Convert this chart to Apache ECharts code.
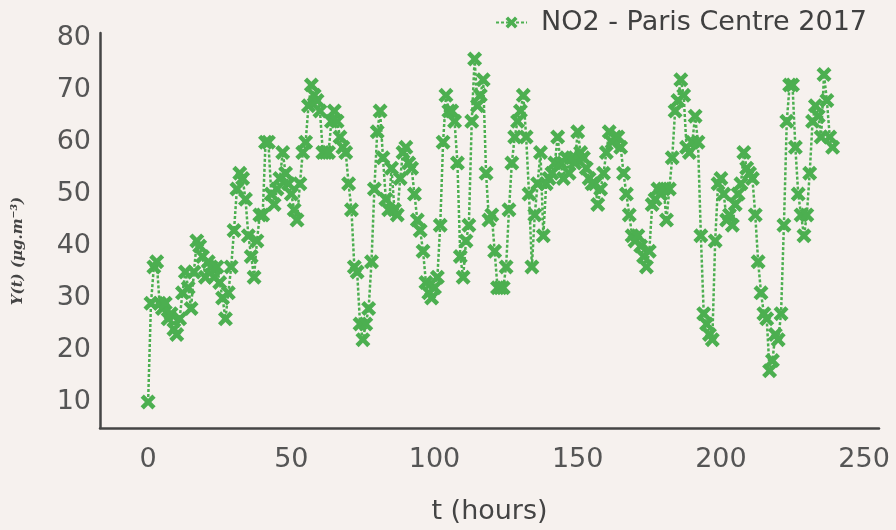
<!DOCTYPE html>
<html>
<head>
<meta charset="utf-8">
<script src="https://cdn.jsdelivr.net/npm/echarts@6/dist/echarts.min.js"></script>
<style>
  html, body { margin: 0; padding: 0; background: #f6f1ee; }
  #chart { width: 896px; height: 530px; }
</style>
</head>
<body>
<div id="chart"></div>
<script>
// Hourly NO2 concentration, Paris Centre 2017 (hours 0..239)
const no2 = [
  10, 29, 36, 37, 29, 28, 29, 26, 27, 24,
  23, 26, 31, 35, 32, 28, 35, 41, 40, 38,
  34, 37, 36, 34, 36, 33, 30, 26, 31, 36,
  43, 51, 54, 53, 49, 42, 38, 34, 41, 46,
  46, 60, 60, 50, 48, 51, 53, 58, 54, 52,
  50, 47, 45, 52, 58, 60, 67, 71, 69, 68,
  66, 58, 58, 58, 64, 66, 64, 61, 59, 58,
  52, 47, 36, 35, 25, 22, 25, 28, 37, 51,
  62, 66, 57, 49, 47, 55, 47, 46, 53, 58,
  59, 56, 55, 50, 45, 43, 39, 33, 31, 30,
  32, 34, 44, 60, 69, 66, 66, 64, 56, 38,
  34, 41, 44, 64, 76, 67, 69, 72, 54, 45,
  46, 39, 32, 32, 32, 36, 47, 56, 61, 64,
  66, 69, 61, 50, 36, 46, 52, 58, 42, 52,
  53, 54, 56, 61, 56, 53, 57, 54, 57, 56,
  62, 58, 57, 55, 53, 52, 52, 48, 51, 54,
  58, 62, 60, 61, 61, 59, 54, 50, 46, 42,
  41, 42, 40, 38, 36, 39, 48, 49, 51, 50,
  51, 45, 51, 57, 66, 68, 72, 69, 59, 58,
  60, 65, 60, 42, 27, 25, 23, 22, 41, 52,
  53, 50, 45, 46, 44, 48, 50, 52, 58, 55,
  54, 53, 46, 37, 31, 27, 26, 16, 18, 23,
  22, 27, 44, 64, 71, 71, 59, 50, 46, 42,
  46, 54, 64, 67, 65, 61, 73, 68, 61, 59
];
const hours = no2.map((_, i) => i);
const xTicks = [0, 50, 100, 150, 200, 250];
const yTicks = [10, 20, 30, 40, 50, 60, 70, 80];
const seriesName = 'NO2 - Paris Centre 2017';
const xName = 't (hours)';
const yName = 'Y(t) (μg.m⁻³)';

const green = '#4caf50';
const xMarker = 'path://M0,3 L3,0 L7,4 L11,0 L14,3 L10,7 L14,11 L11,14 L7,10 L3,14 L0,11 L4,7 Z';

const chart = echarts.init(document.getElementById('chart'), null, { renderer: 'canvas' });
chart.setOption({
  backgroundColor: '#f6f1ee',
  animation: false,
  textStyle: { fontFamily: 'DejaVu Sans' },
  grid: { left: 100, right: 17, top: 33, bottom: 97, containLabel: false },
  legend: {
    right: 24, top: 4,
    itemWidth: 31, itemHeight: 15, itemGap: 10,
    textStyle: { fontFamily: 'DejaVu Sans', fontSize: 27, color: '#404040', padding: [0, 0, 0, 9] },
    data: [seriesName]
  },
  xAxis: {
    type: 'value', min: -16.8, max: 255.2,
    name: xName, nameLocation: 'middle', nameGap: 70,
    nameTextStyle: { fontFamily: 'DejaVu Sans', fontSize: 27, color: '#444' },
    axisLine: { show: true, onZero: false, lineStyle: { color: '#454545', width: 2.5 } },
    axisTick: { show: false, customValues: xTicks },
    axisLabel: { customValues: xTicks, fontFamily: 'DejaVu Sans', fontSize: 27, color: '#555', margin: 18 },
    splitLine: { show: false }
  },
  yAxis: {
    type: 'value', min: 5, max: 81,
    axisLine: { show: true, onZero: false, lineStyle: { color: '#454545', width: 2.5 } },
    axisTick: { show: false, customValues: yTicks },
    axisLabel: { customValues: yTicks, fontFamily: 'DejaVu Sans', fontSize: 27, color: '#555', margin: 9 },
    splitLine: { show: false }
  },
  graphic: [{
    type: 'text', x: 18, y: 251, rotation: Math.PI / 2,
    style: {
      text: yName, fill: '#444',
      font: 'italic bold 15px "DejaVu Serif"',
      textAlign: 'center', textVerticalAlign: 'middle'
    }
  }],
  series: [{
    name: seriesName,
    type: 'line',
    data: hours.map((h, i) => [h, no2[i]]),
    symbol: xMarker,
    symbolSize: 15,
    showAllSymbol: true,
    itemStyle: { color: green },
    lineStyle: { color: green, width: 2.5, type: [3, 2] },
    emphasis: { disabled: true }
  }]
});
</script>
</body>
</html>
